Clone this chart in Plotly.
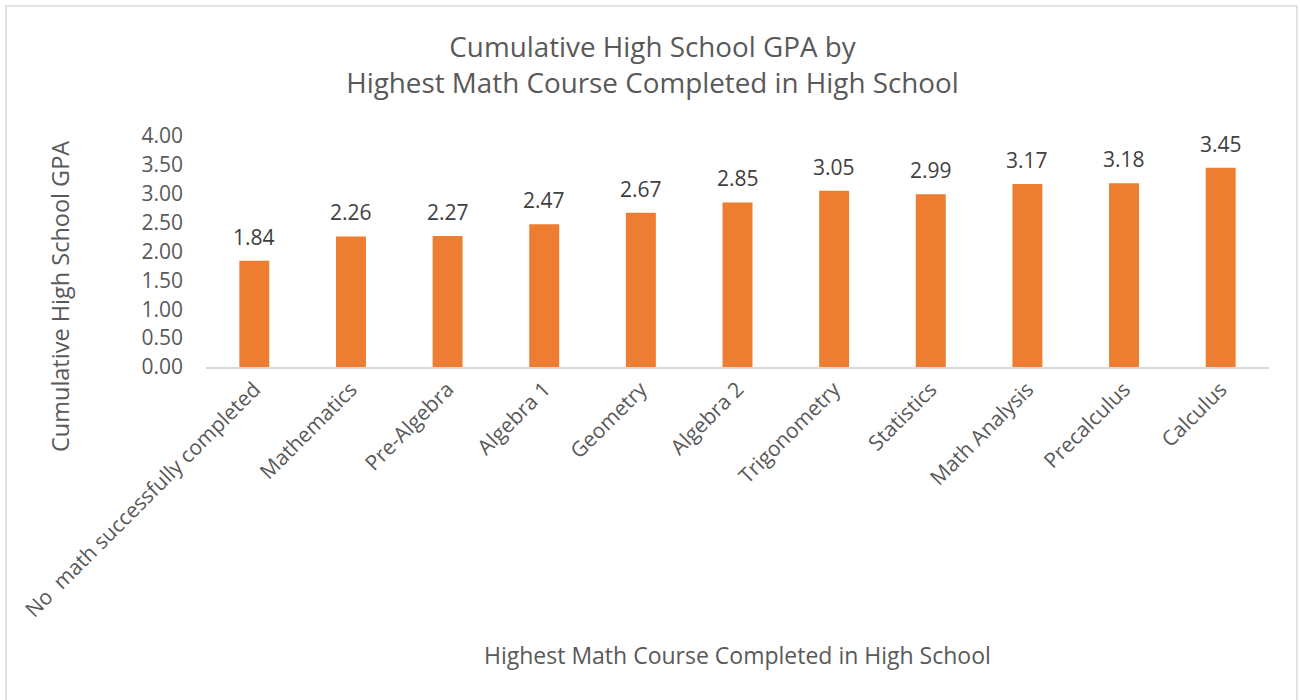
import plotly.graph_objects as go

courses = ["No  math successfully completed", "Mathematics", "Pre-Algebra", "Algebra 1",
           "Geometry", "Algebra 2", "Trigonometry", "Statistics", "Math Analysis",
           "Precalculus", "Calculus"]
gpa = [1.84, 2.26, 2.27, 2.47, 2.67, 2.85, 3.05, 2.99, 3.17, 3.18, 3.45]
y_ticks = [0, 0.5, 1, 1.5, 2, 2.5, 3, 3.5, 4]

FONT = "Open Sans"
GRAY = "#595959"

fig = go.Figure()
fig.add_trace(go.Bar(x=courses, y=gpa, marker_color="#ED7D31", marker_line_width=0,
                     hoverinfo="x+y"))

L, R, T, B = 206, 31, 136, 333
W, H = 1300, 700
pw, ph = W - L - R, H - T - B
def px2x(px): return (px - L) / pw
def py2y(py): return (H - B - py) / ph

annotations = [dict(x=c, y=v, text=f"{v:.2f}", showarrow=False, yshift=24,
                    font=dict(family=FONT, size=21, color="#404040"))
               for c, v in zip(courses, gpa)]
annotations.append(dict(text="Cumulative High School GPA", textangle=-90, showarrow=False,
                        xref="paper", yref="paper", x=px2x(60), y=py2y(297),
                        xanchor="center", yanchor="middle",
                        font=dict(family=FONT, size=23.5, color=GRAY)))
annotations.append(dict(text="Highest Math Course Completed in High School", showarrow=False,
                        xref="paper", yref="paper", x=px2x(737), y=py2y(655),
                        xanchor="center", yanchor="middle",
                        font=dict(family=FONT, size=23, color=GRAY)))

fig.update_layout(
    width=W, height=H,
    margin=dict(l=L, r=R, t=T, b=B, autoexpand=False),
    paper_bgcolor="white", plot_bgcolor="white",
    showlegend=False,
    bargap=0.69,
    font=dict(family=FONT, color=GRAY),
    title=dict(text="Cumulative High School GPA by<br>Highest Math Course Completed in High School",
               x=652.5 / W, xref="container", xanchor="center", y=1 - 57 / H, yanchor="middle",
               font=dict(family=FONT, size=27.8, color=GRAY)),
    xaxis=dict(type="category", tickangle=-45, showline=True, linecolor="#D9D9D9", linewidth=1.5,
               showgrid=False, ticks="", tickfont=dict(family=FONT, size=21, color=GRAY),
               automargin=False),
    yaxis=dict(range=[0, 4], tickvals=y_ticks, tickformat=".2f", showgrid=False, zeroline=False,
               showline=False, ticks="", ticklabelstandoff=22,
               tickfont=dict(family=FONT, size=21, color=GRAY),
               automargin=False),
    annotations=annotations,
    shapes=[dict(type="rect", xref="paper", yref="paper",
                 x0=px2x(6), x1=px2x(1297), y0=py2y(712), y1=py2y(6),
                 line=dict(color="#D9D9D9", width=1.5), fillcolor="rgba(0,0,0,0)", layer="below")],
)

fig.write_html("out.html", config={"displayModeBar": False},
               post_script="document.body.style.margin='0';document.body.style.overflow='hidden';")
